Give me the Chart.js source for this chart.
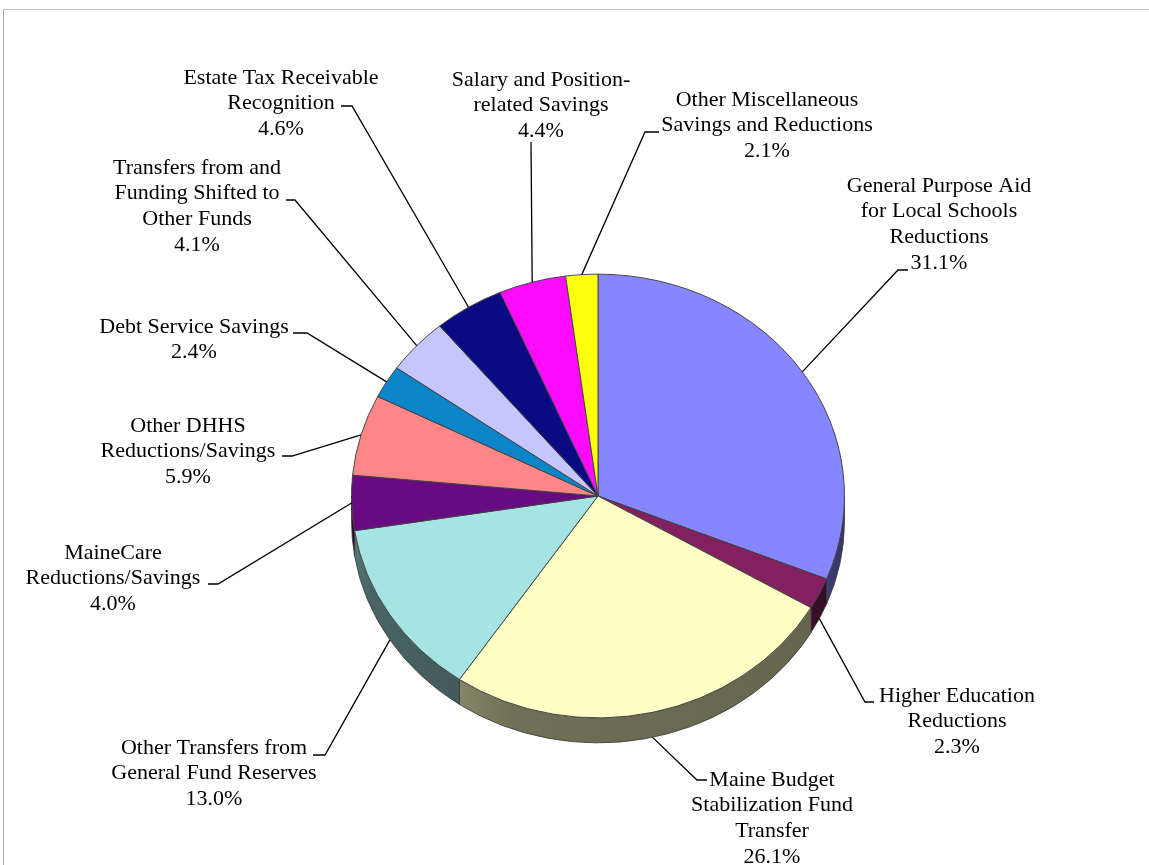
<!DOCTYPE html>
<html>
<head>
<meta charset="utf-8">
<script src="https://cdn.jsdelivr.net/npm/chart.js@4.4.1/dist/chart.umd.min.js"></script>
<style>
  html, body { margin: 0; padding: 0; background: #fff; }
  #wrap { position: relative; width: 1149px; height: 865px; overflow: hidden; }
  #frame { position: absolute; left: 3px; top: 9px; width: 1200px; height: 900px;
           border-top: 1px solid #c4c4c4; border-left: 1px solid #a8a8a8; }
  #wrap canvas { position: absolute; left: 0; top: 0; }
</style>
</head>
<body>
<div id="wrap">
  <div id="frame"></div>
  <canvas id="pieChart" width="1149" height="865"></canvas>
</div>
<script>
// ---- data ----
const categories = [
    ["General Purpose Aid", "for Local Schools", "Reductions"],
    ["Higher Education", "Reductions"],
    ["Maine Budget", "Stabilization Fund", "Transfer"],
    ["Other Transfers from", "General Fund Reserves"],
    ["MaineCare", "Reductions/Savings"],
    ["Other DHHS", "Reductions/Savings"],
    ["Debt Service Savings"],
    ["Transfers from and", "Funding Shifted to", "Other Funds"],
    ["Estate Tax Receivable", "Recognition"],
    ["Salary and Position-", "related Savings"],
    ["Other Miscellaneous", "Savings and Reductions"]
];
const shares = [31.1, 2.3, 26.1, 13.0, 4.0, 5.9, 2.4, 4.1, 4.6, 4.4, 2.1];
const sliceColors = [
    "#8686FF", "#822060", "#FFFFC6", "#A6E4E4", "#680A80", "#FF8686",
    "#0A86C8", "#C6C6FF", "#0A0A82", "#FF0CFF", "#FFFF0A"
];

// ---- label placement: [text centre x, first line y, elbow x, elbow y, tick end x] ----
const labelLayout = [
    [939, 186, 898, 270, 908],
    [957, 696, 865, 702, 874],
    [772, 780, 697, 780, 707],
    [214, 748, 325, 755, 313],
    [113, 553, 218, 584, 208],
    [188, 426, 292, 456, 282],
    [194, 327, 307, 333, 293],
    [197, 168, 295, 200, 286],
    [281, 78, 352, 106, 341],
    [541, 80, 531, 142, 531],
    [767, 100, 645, 132, 659]
];

const TILT = 0.9;      // vertical squash of the pie top
const DEPTH = 25;      // thickness of the pie wall
const LINE = 25.6;     // label line height

function shade(hex, f) {
    const n = parseInt(hex.slice(1), 16);
    const r = Math.round(((n >> 16) & 255) * f);
    const g = Math.round(((n >> 8) & 255) * f);
    const b = Math.round((n & 255) * f);
    return `rgb(${r},${g},${b})`;
}

// fake 3D: draw the side wall, then squash the top face
const pie3d = {
    id: "pie3d",
    beforeDatasetsDraw(chart) {
        const ctx = chart.ctx;
        const arcs = chart.getDatasetMeta(0).data;
        ctx.save();
        arcs.forEach((arc, i) => {
            const p = arc.getProps(["x", "y", "startAngle", "endAngle", "outerRadius"]);
            const a = Math.max(p.startAngle, 0);
            const b = Math.min(p.endAngle, Math.PI);
            if (b <= a) return;
            const r = p.outerRadius;
            const x1 = p.x + r * Math.cos(b), x2 = p.x + r * Math.cos(a);
            const grad = ctx.createLinearGradient(Math.min(x1, x2), 0, Math.max(x1, x2), 0);
            grad.addColorStop(0, shade(sliceColors[i], 0.52));
            grad.addColorStop(0.15, shade(sliceColors[i], 0.44));
            grad.addColorStop(1, shade(sliceColors[i], 0.4));
            ctx.beginPath();
            ctx.ellipse(p.x, p.y, r, r * TILT, 0, a, b);
            ctx.ellipse(p.x, p.y + DEPTH, r, r * TILT, 0, b, a, true);
            ctx.closePath();
            ctx.fillStyle = grad;
            ctx.fill();
            ctx.lineWidth = 0.8;
            ctx.strokeStyle = "#3a3a3a";
            ctx.stroke();
        });
        const cx = arcs[0].x, cy = arcs[0].y;
        ctx.translate(cx, cy);
        ctx.scale(1, TILT);
        ctx.translate(-cx, -cy);
    },
    afterDatasetsDraw(chart) {
        chart.ctx.restore();
    },
    afterDraw(chart) {
        const ctx = chart.ctx;
        const arcs = chart.getDatasetMeta(0).data;
        ctx.save();
        ctx.font = '22px "Liberation Serif", "Times New Roman", serif';
        ctx.fillStyle = "#000";
        ctx.strokeStyle = "#000";
        ctx.lineWidth = 1.3;
        ctx.textAlign = "center";
        ctx.textBaseline = "middle";
        arcs.forEach((arc, i) => {
            const p = arc.getProps(["x", "y", "startAngle", "endAngle", "outerRadius"]);
            const mid = (p.startAngle + p.endAngle) / 2;
            const sx = p.x + p.outerRadius * Math.cos(mid);
            let sy = p.y + p.outerRadius * TILT * Math.sin(mid);
            if (Math.sin(mid) > 0.2) sy += DEPTH;
            const [tx, ty, ex, ey, hx] = labelLayout[i];
            ctx.beginPath();
            ctx.moveTo(sx, sy);
            ctx.lineTo(ex, ey);
            ctx.lineTo(hx, ey);
            ctx.stroke();
            const lines = [...chart.data.labels[i], shares[i].toFixed(1) + "%"];
            lines.forEach((t, k) => ctx.fillText(t, tx, ty + k * LINE));
        });
        ctx.restore();
    }
};

new Chart(document.getElementById("pieChart"), {
    type: "pie",
    data: {
        labels: categories,
        datasets: [{
            data: shares,
            backgroundColor: sliceColors,
            borderColor: "#404040",
            borderWidth: 1,
            hoverOffset: 0,
            offset: 0
        }]
    },
    options: {
        responsive: false,
        animation: false,
        events: [],
        layout: { padding: { left: 351, right: 304, top: 249, bottom: 122 } },
        plugins: {
            legend: { display: false },
            tooltip: { enabled: false },
            title: { display: false }
        }
    },
    plugins: [pie3d]
});
</script>
</body>
</html>
